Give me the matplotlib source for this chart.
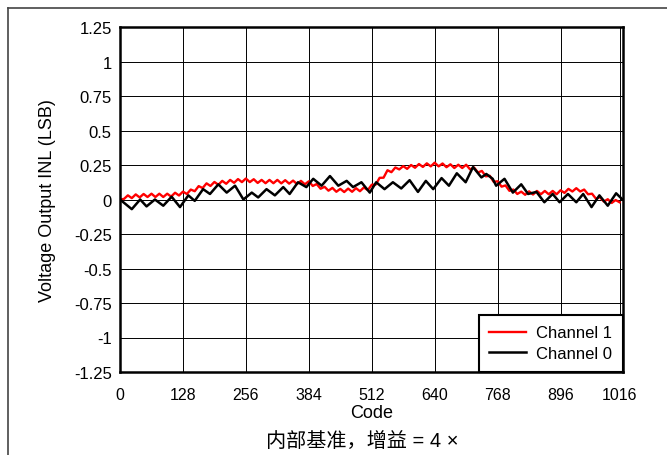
import numpy as np
import matplotlib.pyplot as plt
from matplotlib.lines import Line2D

plt.rcParams['font.family'] = ['Liberation Sans', 'Noto Sans CJK SC', 'DejaVu Sans']

# Channel 1 (red), sampled every 8 codes
ch1_codes = np.arange(0, 1024, 8)
ch1_inl = [
    0.000, 0.004, 0.030, 0.010, 0.037, 0.015, 0.040, 0.018,
    0.042, 0.018, 0.042, 0.018, 0.042, 0.021, 0.049, 0.029,
    0.057, 0.040, 0.072, 0.060, 0.097, 0.083, 0.117, 0.098,
    0.127, 0.107, 0.135, 0.114, 0.142, 0.121, 0.148, 0.126,
    0.152, 0.126, 0.147, 0.120, 0.142, 0.118, 0.142, 0.118,
    0.142, 0.117, 0.140, 0.115, 0.137, 0.112, 0.135, 0.110,
    0.132, 0.098, 0.112, 0.078, 0.092, 0.064, 0.084, 0.056,
    0.077, 0.054, 0.079, 0.056, 0.082, 0.060, 0.087, 0.068,
    0.107, 0.108, 0.157, 0.158, 0.212, 0.198, 0.232, 0.218,
    0.242, 0.222, 0.250, 0.230, 0.257, 0.236, 0.262, 0.240,
    0.267, 0.240, 0.261, 0.234, 0.255, 0.228, 0.252, 0.228,
    0.252, 0.218, 0.232, 0.196, 0.207, 0.168, 0.172, 0.128,
    0.132, 0.093, 0.102, 0.063, 0.072, 0.040, 0.057, 0.034,
    0.059, 0.036, 0.062, 0.038, 0.062, 0.038, 0.062, 0.038,
    0.067, 0.048, 0.077, 0.058, 0.082, 0.058, 0.072, 0.038,
    0.042, 0.006, 0.017, -0.015, 0.002, -0.025, -0.004, -0.020,
]

# Channel 0 (black), zigzag turning points
ch0_codes = [0, 24, 41, 54, 71, 88, 105, 122, 139, 152, 169, 183, 200, 217, 234,
             251, 268, 281, 298, 315, 332, 345, 362, 379, 393, 410, 427, 444, 461,
             474, 491, 508, 521, 538, 555, 572, 589, 606, 622, 637, 654, 669, 685,
             703, 718, 735, 745, 758, 765, 782, 799, 816, 830, 847, 863, 880, 894,
             911, 928, 942, 959, 975, 992, 1009, 1022]
ch0_inl = [0.0, -0.07, 0.0, -0.05, 0.0, -0.045, 0.02, -0.055, 0.03, -0.01, 0.075,
           0.04, 0.11, 0.05, 0.10, 0.0, 0.05, 0.015, 0.075, 0.03, 0.09, 0.04, 0.125,
           0.09, 0.15, 0.10, 0.17, 0.10, 0.135, 0.09, 0.125, 0.05, 0.125, 0.075,
           0.125, 0.08, 0.14, 0.055, 0.135, 0.075, 0.155, 0.10, 0.19, 0.125, 0.235,
           0.16, 0.185, 0.15, 0.10, 0.15, 0.05, 0.11, 0.04, 0.055, -0.02, 0.04,
           -0.02, 0.04, -0.02, 0.04, -0.055, 0.03, -0.045, 0.045, 0.0]

xticks = [0, 128, 256, 384, 512, 640, 768, 896, 1016]
yticks = np.arange(-1.25, 1.26, 0.25)
ytick_labels = ['-1.25', '-1', '-0.75', '-0.5', '-0.25', '0', '0.25', '0.5',
                '0.75', '1', '1.25']

fig = plt.figure(figsize=(6.67, 4.56), dpi=100)
ax = fig.add_axes([120/667, 1 - 373/456, 503/667, 345/456])

ax.plot(ch1_codes, ch1_inl, color='#ff0000', linewidth=1.7, label='Channel 1')
ax.plot(ch0_codes, ch0_inl, color='black', linewidth=1.8, label='Channel 0')

ax.set_xlim(0, 1023)
ax.set_ylim(-1.25, 1.25)
ax.set_xticks(xticks)
ax.set_yticks(yticks)
ax.set_yticklabels(ytick_labels)
ax.tick_params(axis='x', length=0, pad=11, labelsize=11.5)
ax.tick_params(axis='y', length=0, pad=6, labelsize=12)
ax.grid(True, color='black', linewidth=0.7)
ax.set_axisbelow(True)
for s in ax.spines.values():
    s.set_linewidth(1.8)

ax.set_xlabel('Code', fontsize=13, labelpad=1)
ax.set_ylabel('Voltage Output INL (LSB)', fontsize=13, labelpad=13)

leg = ax.legend(loc='lower right', borderaxespad=0, fancybox=False,
                edgecolor='black', fontsize=12, handlelength=2.2,
                handletextpad=0.6, framealpha=1, borderpad=0.65,
                labelspacing=0.35)
leg.get_frame().set_linewidth(1.5)

fig.text(362/667, 1 - 441/456, '内部基准，增益 = 4 ×', ha='center', va='center',
         fontsize=14.5)

# outer frame
fig.add_artist(Line2D([8/667, 8/667], [0, 1 - 9/456], color='#444444', linewidth=1.2))
fig.add_artist(Line2D([8/667, 1], [1 - 9/456, 1 - 9/456], color='#444444', linewidth=1.2))

fig.savefig('out.png', dpi=100)
